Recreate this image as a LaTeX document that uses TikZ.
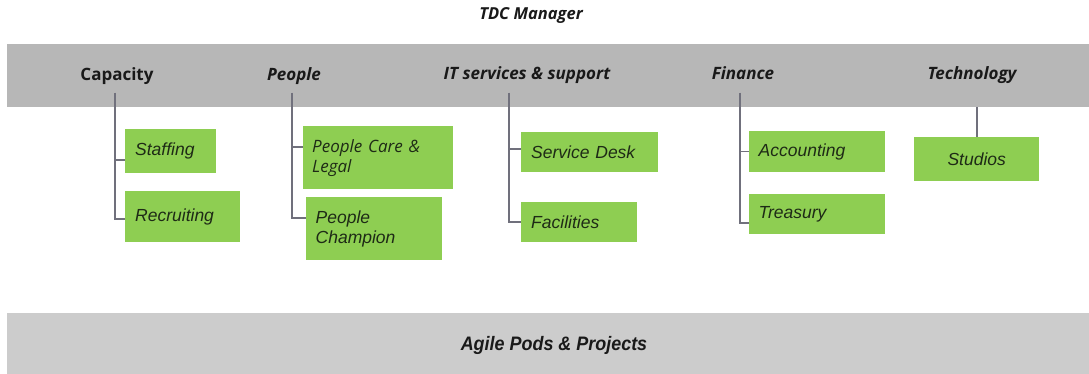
\documentclass[tikz,border=0pt]{standalone}
\usepackage{fontspec}
\setmainfont{Liberation Sans}
\newfontfamily\headfont{Open Sans}
\newfontfamily\podsfont[FakeStretch=0.92]{Liberation Sans}
\usepackage{xcolor}
\usetikzlibrary{positioning}
\definecolor{bandgray}{RGB}{183,183,183}
\definecolor{podgray}{RGB}{204,204,204}
\definecolor{leafgreen}{RGB}{142,206,82}
\definecolor{linkgray}{RGB}{112,112,124}
\definecolor{leaftext}{RGB}{30,42,22}

\begin{document}
\begin{tikzpicture}[x=1pt,y=-1pt,
	band/.style={fill=bandgray,inner sep=0pt},
	head/.style={font=\headfont\fontsize{17}{20}\selectfont\bfseries\itshape,text=black!90},
	leaf/.style={fill=leafgreen,anchor=north west,inner xsep=10pt,inner ysep=0pt,align=left,
		font=\fontsize{17.5}{20}\selectfont\itshape,text=leaftext},
	link/.style={draw=linkgray,line width=1.5pt}]
		
		\useasboundingbox (0,0) rectangle (1089,374);
		
		\node[
		head,
		font=\headfont\fontsize{16.5}{19}\selectfont\bfseries\itshape
		]
		(tdc)
		at (531,16)
		{TDC Manager};
		
		\node[
		band,
		minimum width=1082pt,
		minimum height=63pt
		]
		(mgmt)
		at (548,75.5)
		{};
		
		\node[
		band,
		fill=podgray,
		minimum width=1082pt,
		minimum height=61pt
		]
		(podband)
		at (548,343.5)
		{};
		
		\node[
		font=\podsfont\fontsize{19.5}{22}\selectfont\bfseries\itshape,
		text=black!90
		]
		(pods)
		at (554,345)
		{Agile Pods \& Projects};
		
		\node[
		head,
		font=\headfont\fontsize{17}{20}\selectfont\bfseries
		]
		(capH)
		at (117,76)
		{Capacity};
		
		\node[head] (peopH) at (294,76) {People};
		\node[head] (itH) at (527,75) {IT services \& support};
		\node[head] (finH) at (743,73) {Finance};
		\node[head] (techH) at (972,75) {Technology};
		
		\node[leaf,text width=70.5pt,minimum height=44pt] (staff) at (125,129) {Staffing};
		\node[leaf,text width=95pt,minimum height=51pt] (recr) at (125,191) {Recruiting};
		\node[
		leaf,
		text width=132pt,
		inner xsep=9pt,
		minimum height=63pt,
		font=\headfont\fontsize{17}{20}\selectfont\itshape
		]
		(pcare)
		at (303,126)
		{People Care \&\\Legal};
		\node[leaf,text width=117pt,inner xsep=9.5pt,minimum height=63pt] (pchamp) at (306,197) {People\\Champion};
		\node[leaf,text width=117pt,minimum height=40pt] (sdesk) at (521,132) {Service Desk};
		\node[leaf,text width=96pt,minimum height=40pt] (facil) at (521,202) {Facilities};
		\node[leaf,text width=117pt,inner xsep=9.5pt,minimum height=41pt] (acct) at (749,131) {Accounting};
		\node[leaf,text width=117pt,inner xsep=9.5pt,minimum height=40pt] (treas) at (749,194) {Treasury};
		\node[leaf,text width=105pt,minimum height=44pt,align=center] (studio) at (914,137) {Studios};
		
		\coordinate (capTop) at (115,93);
		\coordinate (peopTop) at (292,93);
		\coordinate (itTop) at (509,93);
		\coordinate (finTop) at (740,93);
		\coordinate (techTop) at (977,107);
		
		\draw[link] (capTop) |- ([yshift=-9pt]staff.west);
		\draw[link] (capTop) |- ([yshift=-2.5pt]recr.west);
		\draw[link] (peopTop) |- ([yshift=10.5pt]pcare.west);
		\draw[link] (peopTop) |- ([yshift=10.5pt]pchamp.west);
		\draw[link] (itTop) |- ([yshift=3pt]sdesk.west);
		\draw[link] (itTop) |- (facil.west);
		\draw[link] (finTop) |- (acct.west);
		\draw[link] (finTop) |- ([yshift=-9pt]treas.west);
		\draw[link] (techTop) -- (techTop |- studio.north);
		
	\end{tikzpicture}
\end{document}
